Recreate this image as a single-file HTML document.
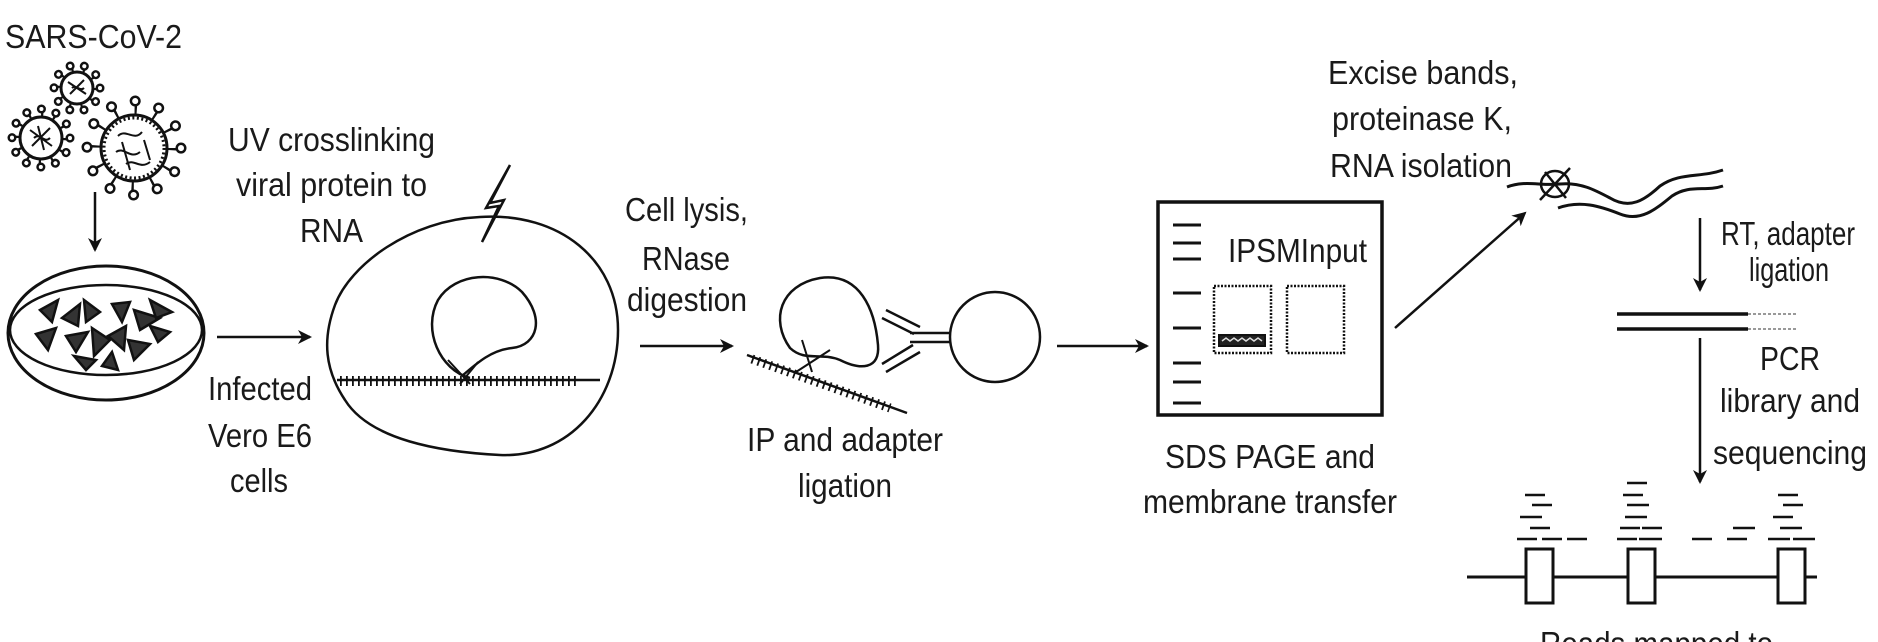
<!DOCTYPE html>
<html><head><meta charset="utf-8"><style>
html,body{margin:0;padding:0;background:#fff;}
svg{display:block;}
text{font-family:"Liberation Sans",sans-serif;font-size:33px;fill:#1a1a1a;}
</style></head><body>
<svg width="1878" height="642" viewBox="0 0 1878 642" xmlns="http://www.w3.org/2000/svg">
<defs>
<marker id="ah" markerWidth="10" markerHeight="10" refX="9" refY="5" orient="auto" markerUnits="userSpaceOnUse"><path d="M0,0 L10,5 L0,10 L3,5 Z" fill="#111"/></marker>
<marker id="ah2" markerWidth="14" markerHeight="14" refX="12" refY="7" orient="auto" markerUnits="userSpaceOnUse"><path d="M0,0 L14,7 L0,14 L4,7 Z" fill="#111"/></marker>
</defs>
<g stroke="#111" fill="none" stroke-width="2.5">
<!-- viruses -->
<!-- small -->
<circle cx="77" cy="88" r="21" stroke-width="10" stroke-dasharray="2.5 10.7"/>
<circle cx="77" cy="88" r="23" stroke-width="9" stroke-linecap="round" stroke-dasharray="0.1 14.35"/>
<circle cx="77" cy="88" r="23" stroke="#fff" stroke-width="4" stroke-linecap="round" stroke-dasharray="0.1 14.35"/>
<circle cx="77" cy="88" r="16" fill="#fff" stroke-width="3"/>
<path d="M68 82 L86 94 M70 94 L84 80 M72 88 C76 84 80 92 84 88" stroke-width="2"/>
<!-- left -->
<circle cx="41" cy="138" r="26" stroke-width="10" stroke-dasharray="2.5 11.1"/>
<circle cx="41" cy="138" r="29" stroke-width="9" stroke-linecap="round" stroke-dasharray="0.1 15.1"/>
<circle cx="41" cy="138" r="29" stroke="#fff" stroke-width="4" stroke-linecap="round" stroke-dasharray="0.1 15.1"/>
<circle cx="41" cy="138" r="21" fill="#fff" stroke-width="3"/>
<path d="M30 130 L52 146 M32 146 L50 128 M34 138 C40 132 44 144 50 138 M38 126 L44 150" stroke-width="2"/>
<!-- big -->
<circle cx="134" cy="148" r="41" stroke-width="14" stroke-dasharray="2.5 19"/>
<circle cx="134" cy="148" r="47" stroke-width="11" stroke-linecap="round" stroke-dasharray="0.1 24.6"/>
<circle cx="134" cy="148" r="47" stroke="#fff" stroke-width="6" stroke-linecap="round" stroke-dasharray="0.1 24.6"/>
<circle cx="134" cy="148" r="33" fill="#fff" stroke-width="3"/>
<circle cx="134" cy="148" r="30" stroke-width="3" stroke-dasharray="2 2.5"/>
<path d="M118 136 C126 128 134 142 142 132 M116 152 C124 146 130 160 140 152 M126 164 C134 158 140 170 150 162 M144 140 L150 160 M122 142 L130 170" stroke-width="2"/>
<!-- arrow down -->
<line x1="95" y1="192" x2="95" y2="250" marker-end="url(#ah2)"/>
<!-- dish -->
<ellipse cx="106" cy="333" rx="98" ry="67" stroke-width="3"/>
<ellipse cx="106" cy="330" rx="96" ry="45" stroke-width="2.5"/>
<g fill="#333" stroke-width="2.5">
<path d="M40 310 L58 300 L52 322 Z"/><path d="M62 318 L80 304 L78 326 Z"/><path d="M84 300 L100 312 L86 322 Z"/>
<path d="M112 304 L130 302 L122 322 Z"/><path d="M134 310 L160 318 L140 330 Z"/><path d="M150 300 L172 312 L156 318 Z"/>
<path d="M36 334 L56 328 L48 350 Z"/><path d="M66 336 L88 332 L76 352 Z"/><path d="M92 328 L110 340 L94 356 Z"/>
<path d="M108 336 L126 326 L124 350 Z"/><path d="M128 340 L150 344 L134 360 Z"/><path d="M74 356 L96 360 L86 370 Z"/>
<path d="M112 352 L118 370 L102 366 Z"/><path d="M150 326 L170 332 L158 342 Z"/>
</g>
<line x1="217" y1="337" x2="310" y2="337" marker-end="url(#ah2)"/>
<!-- cell -->
<path d="M480 217 C560 212 618 260 618 330 C618 400 570 458 500 455 C440 452 370 440 345 400 C325 370 322 340 335 305 C350 265 410 220 480 217 Z"/>
<path d="M470 378 C440 370 422 330 438 300 C455 272 500 270 522 292 C545 318 538 345 512 348 C492 350 478 362 462 376"/>
<path d="M448 360 L470 384 M460 384 L478 362" stroke-width="2"/>
<path d="M510 165 L490 203 L504 200 L482 242 L499 206 L486 208 Z" fill="#fff"/>
<line x1="337" y1="380" x2="600" y2="380"/>
<line x1="340" y1="381" x2="580" y2="381" stroke-width="10" stroke-dasharray="1.8 4.2"/>
<!-- mid arrow -->
<line x1="640" y1="346" x2="732" y2="346" marker-end="url(#ah2)"/>
<!-- protein -->
<path d="M790 348 C770 320 780 285 820 278 C860 272 875 310 878 345 C880 370 860 370 840 360 C820 352 805 362 790 348 Z"/>
<line x1="747" y1="355" x2="907" y2="413"/>
<line x1="752" y1="359" x2="890" y2="408" stroke-width="9" stroke-dasharray="1.8 4.5"/>
<path d="M802 340 L812 372 M796 372 L830 350" stroke-width="2"/>
<path d="M882 318 L914 334 M886 310 L920 327 M882 364 L913 345 M886 372 L920 352 M910 333 L950 333 M910 342 L950 342"/>
<circle cx="995" cy="337" r="45"/>
<line x1="1057" y1="346" x2="1147" y2="346" marker-end="url(#ah2)"/>
<!-- gel -->
<rect x="1158" y="202" width="224" height="213" stroke-width="3.5"/>
<g stroke-width="3">
<line x1="1173" y1="225" x2="1201" y2="225"/><line x1="1173" y1="243" x2="1201" y2="243"/><line x1="1173" y1="259" x2="1201" y2="259"/>
<line x1="1173" y1="293" x2="1201" y2="293"/><line x1="1173" y1="328" x2="1201" y2="328"/><line x1="1173" y1="363" x2="1201" y2="363"/>
<line x1="1173" y1="382" x2="1201" y2="382"/><line x1="1173" y1="403" x2="1201" y2="403"/>
</g>
<rect x="1214" y="286" width="57" height="67" stroke-width="2.5" stroke-dasharray="2 1.5"/>
<rect x="1287" y="286" width="57" height="67" stroke-width="2.5" stroke-dasharray="2 1.5"/>
<rect x="1219" y="335" width="46" height="11" fill="#222" stroke-width="2"/>
<path d="M1222 341 L1226 338 L1230 341 L1234 338 L1238 341 L1242 338 L1246 341 L1250 338 L1254 341 L1258 338 L1262 341" stroke="#ddd" stroke-width="1.5"/>
<line x1="1395" y1="328" x2="1525" y2="213" marker-end="url(#ah2)"/>
<!-- RNA squiggle -->
<path d="M1507 187 C1525 180 1540 186 1560 184 C1580 182 1595 190 1610 198 C1630 210 1645 200 1660 186 C1680 172 1700 178 1723 170" stroke-width="3"/>
<path d="M1558 208 C1580 200 1600 206 1620 214 C1640 222 1655 210 1672 196 C1690 184 1705 192 1723 186" stroke-width="3"/>
<ellipse cx="1555" cy="184" rx="14" ry="13"/>
<path d="M1540 200 L1570 168 M1545 172 L1566 198"/>
<line x1="1700" y1="218" x2="1700" y2="290" marker-end="url(#ah2)"/>
<line x1="1617" y1="314" x2="1748" y2="314" stroke-width="3.5"/>
<line x1="1617" y1="329" x2="1748" y2="329" stroke-width="3.5"/>
<line x1="1748" y1="314" x2="1798" y2="314" stroke="#999" stroke-width="2" stroke-dasharray="3 2"/>
<line x1="1748" y1="329" x2="1798" y2="329" stroke="#999" stroke-width="2" stroke-dasharray="3 2"/>
<line x1="1700" y1="338" x2="1700" y2="482" marker-end="url(#ah2)"/>
<!-- genome -->
<line x1="1467" y1="577" x2="1817" y2="577" stroke-width="3"/>
<rect x="1526" y="549" width="27" height="54" fill="#fff" stroke-width="3"/>
<rect x="1628" y="549" width="27" height="54" fill="#fff" stroke-width="3"/>
<rect x="1778" y="549" width="27" height="54" fill="#fff" stroke-width="3"/>
<g stroke-width="2.5">
<path d="M1517 539h20M1542 539h20M1567 539h20M1617 539h20M1639 539h23M1692 539h20M1727 539h20M1768 539h22M1793 539h22"/>
<path d="M1530 528h20M1620 528h20M1642 528h20M1733 528h22M1780 528h22"/>
<path d="M1520 517h22M1625 517h22M1773 517h20"/>
<path d="M1532 505h20M1627 505h22M1783 505h20"/>
<path d="M1525 495h20M1623 495h20M1778 495h20"/>
<path d="M1627 483h20"/>
</g>
</g>
<!-- text -->
<text x="5" y="48" textLength="177" lengthAdjust="spacingAndGlyphs">SARS-CoV-2</text>
<text x="228" y="151" textLength="207" lengthAdjust="spacingAndGlyphs">UV crosslinking</text>
<text x="236" y="196" textLength="191" lengthAdjust="spacingAndGlyphs">viral protein to</text>
<text x="300" y="242" textLength="63" lengthAdjust="spacingAndGlyphs">RNA</text>
<text x="208" y="400" textLength="104" lengthAdjust="spacingAndGlyphs">Infected</text>
<text x="208" y="447" textLength="104" lengthAdjust="spacingAndGlyphs">Vero E6</text>
<text x="230" y="492" textLength="58" lengthAdjust="spacingAndGlyphs">cells</text>
<text x="625" y="221" textLength="123" lengthAdjust="spacingAndGlyphs">Cell lysis,</text>
<text x="642" y="270" textLength="88" lengthAdjust="spacingAndGlyphs">RNase</text>
<text x="627" y="311" textLength="120" lengthAdjust="spacingAndGlyphs">digestion</text>
<text x="747" y="451" textLength="196" lengthAdjust="spacingAndGlyphs">IP and adapter</text>
<text x="798" y="497" textLength="94" lengthAdjust="spacingAndGlyphs">ligation</text>
<text x="1328" y="84" textLength="190" lengthAdjust="spacingAndGlyphs">Excise bands,</text>
<text x="1332" y="130" textLength="180" lengthAdjust="spacingAndGlyphs">proteinase K,</text>
<text x="1330" y="177" textLength="182" lengthAdjust="spacingAndGlyphs">RNA isolation</text>
<text x="1228" y="262" textLength="139" lengthAdjust="spacingAndGlyphs">IPSMInput</text>
<text x="1165" y="468" textLength="210" lengthAdjust="spacingAndGlyphs">SDS PAGE and</text>
<text x="1143" y="513" textLength="254" lengthAdjust="spacingAndGlyphs">membrane transfer</text>
<text x="1721" y="245" textLength="134" lengthAdjust="spacingAndGlyphs">RT, adapter</text>
<text x="1749" y="281" textLength="80" lengthAdjust="spacingAndGlyphs">ligation</text>
<text x="1760" y="370" textLength="60" lengthAdjust="spacingAndGlyphs">PCR</text>
<text x="1720" y="412" textLength="140" lengthAdjust="spacingAndGlyphs">library and</text>
<text x="1713" y="464" textLength="154" lengthAdjust="spacingAndGlyphs">sequencing</text>
<text x="1540" y="655" textLength="233" lengthAdjust="spacingAndGlyphs">Reads mapped to</text>
</svg>
</body></html>
